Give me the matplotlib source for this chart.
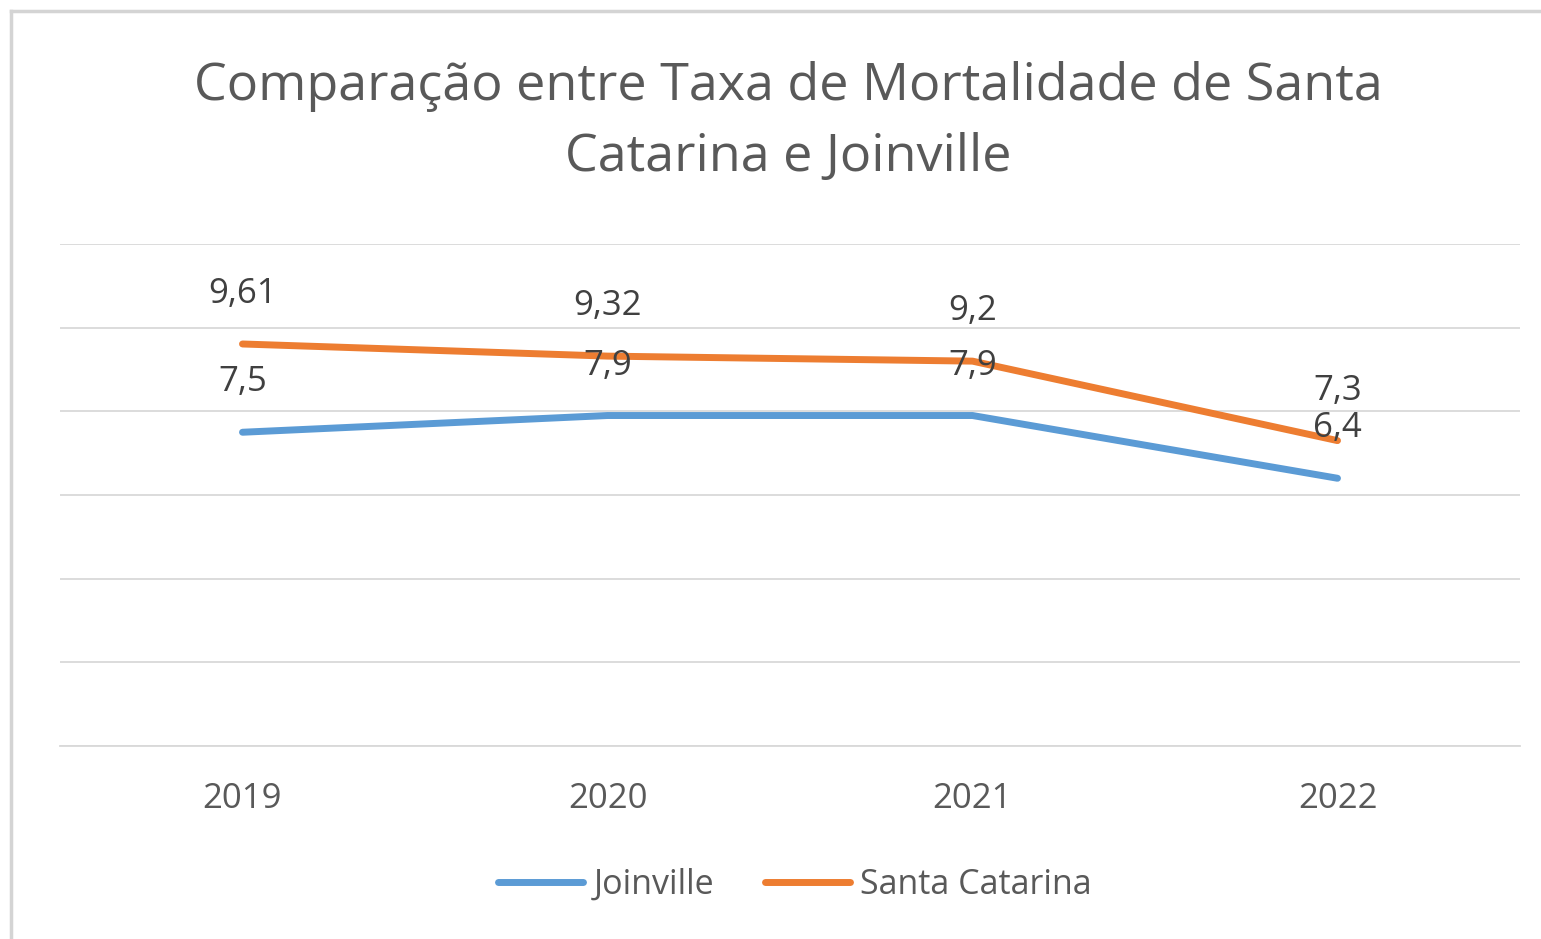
import matplotlib
matplotlib.use("Agg")
from matplotlib import pyplot as plt
from matplotlib.lines import Line2D

anos = ["2019", "2020", "2021", "2022"]
joinville = [7.5, 7.9, 7.9, 6.4]
santa_catarina = [9.61, 9.32, 9.2, 7.3]
rotulos_joinville = ["7,5", "7,9", "7,9", "6,4"]
rotulos_sc = ["9,61", "9,32", "9,2", "7,3"]

azul = "#5B9BD5"
laranja = "#ED7D31"
cinza = "#595959"

plt.rcParams['font.family'] = ['Open Sans', 'DejaVu Sans']

W, H = 1541, 939
fig = plt.figure(figsize=(W / 100, H / 100), dpi=100)
fig.patch.set_facecolor("white")

# moldura do gráfico (cortada à direita e embaixo)
fig.add_artist(Line2D([11 / W, 1], [1 - 11 / H, 1 - 11 / H], color="#d4d4d4", lw=2.5))
fig.add_artist(Line2D([11 / W, 11 / W], [0, 1 - 11 / H], color="#d4d4d4", lw=2.5))

ax = fig.add_axes([60 / W, 1 - 746 / H, (1520 - 60) / W, (746 - 244) / H])
x = list(range(len(anos)))

ax.plot(x, joinville, color=azul, lw=5, solid_capstyle="round", label="Joinville", zorder=3)
ax.plot(x, santa_catarina, color=laranja, lw=5, solid_capstyle="round", label="Santa Catarina", zorder=3)

for i in x:
    ax.annotate(rotulos_joinville[i], (i, joinville[i]), xytext=(0, 36), textcoords="offset points",
                ha="center", va="center", fontsize=25, color="#404040", zorder=4)
    ax.annotate(rotulos_sc[i], (i, santa_catarina[i]), xytext=(0, 36), textcoords="offset points",
                ha="center", va="center", fontsize=25, color="#404040", zorder=4)

ax.set_xlim(-0.5, 3.5)
ax.set_ylim(0, 12)
ax.set_yticks(range(0, 13, 2))
ax.yaxis.grid(True, color="#d9d9d9", lw=1.3)
ax.set_axisbelow(True)
ax.tick_params(axis="y", left=False, labelleft=False)
ax.set_xticks(x)
ax.set_xticklabels(anos, fontsize=25, color=cinza)
ax.tick_params(axis="x", length=0, pad=26)
for s in ["top", "right", "left"]:
    ax.spines[s].set_visible(False)
ax.spines["bottom"].set_color("#d9d9d9")
ax.spines["bottom"].set_linewidth(1.3)

fig.text(788 / W, 1 - 86 / H, "Comparação entre Taxa de Mortalidade de Santa", ha="center", va="center",
         fontsize=37.5, color=cinza)
fig.text(788 / W, 1 - 158 / H, "Catarina e Joinville", ha="center", va="center",
         fontsize=37.5, color=cinza)

fig.legend(loc="center", bbox_to_anchor=(795 / W, 1 - 885 / H), ncol=2, frameon=False,
           fontsize=24.5, labelcolor=cinza, handlelength=2.5, handletextpad=0.3, columnspacing=1.5)

fig.savefig("out.png", dpi=100)
